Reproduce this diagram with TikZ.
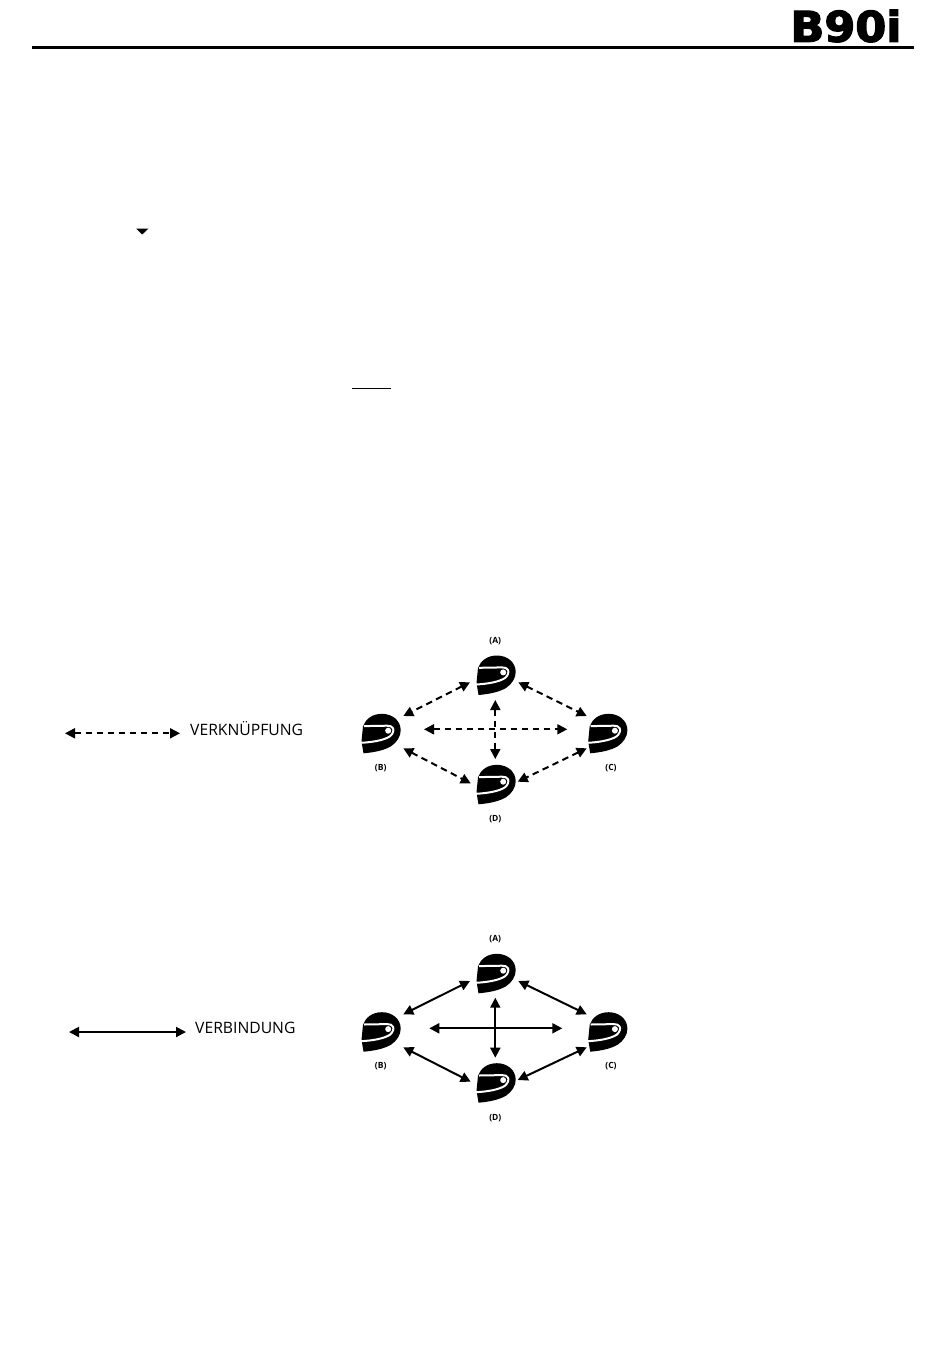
\documentclass[tikz,border=0pt]{standalone}
\usepackage{fontspec}
\setmainfont{Open Sans}
\newfontfamily\logofont[BoldFeatures={FakeBold=3}]{DejaVu Sans}
\usetikzlibrary{arrows.meta}
\tikzset{
  helmetbox/.style={minimum size=40pt,inner sep=0pt,outer sep=0pt},
  linkline/.style={line width=2pt,{Triangle[length=10pt,width=10pt]}-{Triangle[length=10pt,width=10pt]},dashed,dash pattern=on 6.5pt off 4.5pt},
  joinline/.style={line width=2pt,{Triangle[length=10pt,width=10pt]}-{Triangle[length=10pt,width=10pt]}},
  smalllabel/.style={font=\fontsize{8.5}{10}\selectfont\bfseries,inner sep=0pt,text=black},
  legendlabel/.style={font=\fontsize{15.7}{18}\selectfont,inner sep=0pt,text=black,anchor=west},
  helmet/.pic={
    \fill[black] (-17.5,20) .. controls (-6,19) and (3,17) .. (10,13)
      .. controls (16,9) and (19.7,3) .. (19.7,-3)
      .. controls (19.7,-13) and (11,-19.5) .. (1,-19.5)
      .. controls (-9,-19.5) and (-15.5,-14) .. (-18,-7)
      -- (-19.5,8) -- cycle;
    \draw[white,line width=2pt]
      (-20.5,9.5) .. controls (-9,9) and (3,7) .. (9,3)
      .. controls (12,0.5) and (13,-3) .. (12,-5)
      .. controls (11,-7) and (9,-7.6) .. (6,-7.6) -- (-17,-7.2);
    \fill[white] (7.2,-2.6) circle (3);
  }
}
\newcommand{\placehelmet}[3]{%
  \node[helmetbox] (#1) at (#2,#3) {};
  \pic at (#1) {helmet};
}
\begin{document}
\begin{tikzpicture}[x=1pt,y=-1pt]
\useasboundingbox (0,0) rectangle (950,1362);
\fill[white] (0,0) rectangle (950,1362);

% header
\coordinate (ruleL) at (32,48);
\coordinate (ruleR) at (914,48);
\draw[black,line width=3pt] (ruleL) -- (ruleR);
\node[inner sep=0pt] (logo) at (846,26) {\resizebox{111pt}{32pt}{\logofont\bfseries B90i}};

% small marks
\fill[black] (136,228.5) -- (148.5,228.5) -- (142.2,234.5) -- cycle;
\coordinate (ulL) at (352,388.5);
\coordinate (ulR) at (391,388.5);
\draw[black,line width=1pt] (ulL) -- (ulR);

% --- first diagram
\placehelmet{a1}{496}{675}
\placehelmet{b1}{381}{733.3}
\placehelmet{c1}{607.7}{733.3}
\placehelmet{d1}{496}{784.3}
\node[smalllabel] (la1) at (495.3,641) {(A)};
\node[smalllabel] (lb1) at (380.7,768) {(B)};
\node[smalllabel] (lc1) at (611,768) {(C)};
\node[smalllabel] (ld1) at (495.3,819) {(D)};
\coordinate (p1) at (470,682.3);   \coordinate (p2) at (403.3,716);
\coordinate (p3) at (518.3,682.3); \coordinate (p4) at (586.7,716);
\coordinate (p5) at (403.3,748.3); \coordinate (p6) at (470.7,783.3);
\coordinate (p7) at (586.7,748.3); \coordinate (p8) at (517.7,781.7);
\coordinate (p9) at (495.3,700);   \coordinate (p10) at (495.3,759);
\coordinate (p11) at (424,729.3);  \coordinate (p12) at (567.3,729.3);
\draw[linkline] (p1) -- (p2);
\draw[linkline] (p3) -- (p4);
\draw[linkline] (p5) -- (p6);
\draw[linkline] (p7) -- (p8);
\draw[linkline] (p9) -- (p10);
\draw[linkline] (p11) -- (p12);
\coordinate (legA1) at (65,733.3);
\coordinate (legA2) at (180,733.3);
\draw[linkline] (legA1) -- (legA2);
\node[legendlabel] (legAt) at (190,728.4) {VERKNÜPFUNG};

% --- second diagram
\placehelmet{a2}{496}{973.3}
\placehelmet{b2}{381}{1031.7}
\placehelmet{c2}{607.7}{1031.7}
\placehelmet{d2}{496}{1082.7}
\node[smalllabel] (la2) at (495.3,939.3) {(A)};
\node[smalllabel] (lb2) at (380.7,1066.5) {(B)};
\node[smalllabel] (lc2) at (611,1066.5) {(C)};
\node[smalllabel] (ld2) at (495.3,1118) {(D)};
\coordinate (q1) at (470,981);     \coordinate (q2) at (403.3,1014.3);
\coordinate (q3) at (518.3,981);   \coordinate (q4) at (586.7,1014.3);
\coordinate (q5) at (403.3,1047.3);\coordinate (q6) at (470.7,1081.7);
\coordinate (q7) at (586.7,1047.3);\coordinate (q8) at (517.7,1080);
\coordinate (q9) at (495.3,997.7); \coordinate (q10) at (495.3,1057.7);
\coordinate (q11) at (429.3,1028.3);\coordinate (q12) at (562.3,1028.3);
\draw[joinline] (q1) -- (q2);
\draw[joinline] (q3) -- (q4);
\draw[joinline] (q5) -- (q6);
\draw[joinline] (q7) -- (q8);
\draw[joinline] (q9) -- (q10);
\draw[joinline] (q11) -- (q12);
\coordinate (legB1) at (69,1032);
\coordinate (legB2) at (186,1032);
\draw[joinline] (legB1) -- (legB2);
\node[legendlabel] (legBt) at (195,1027.4) {VERBINDUNG};
\end{tikzpicture}
\end{document}
